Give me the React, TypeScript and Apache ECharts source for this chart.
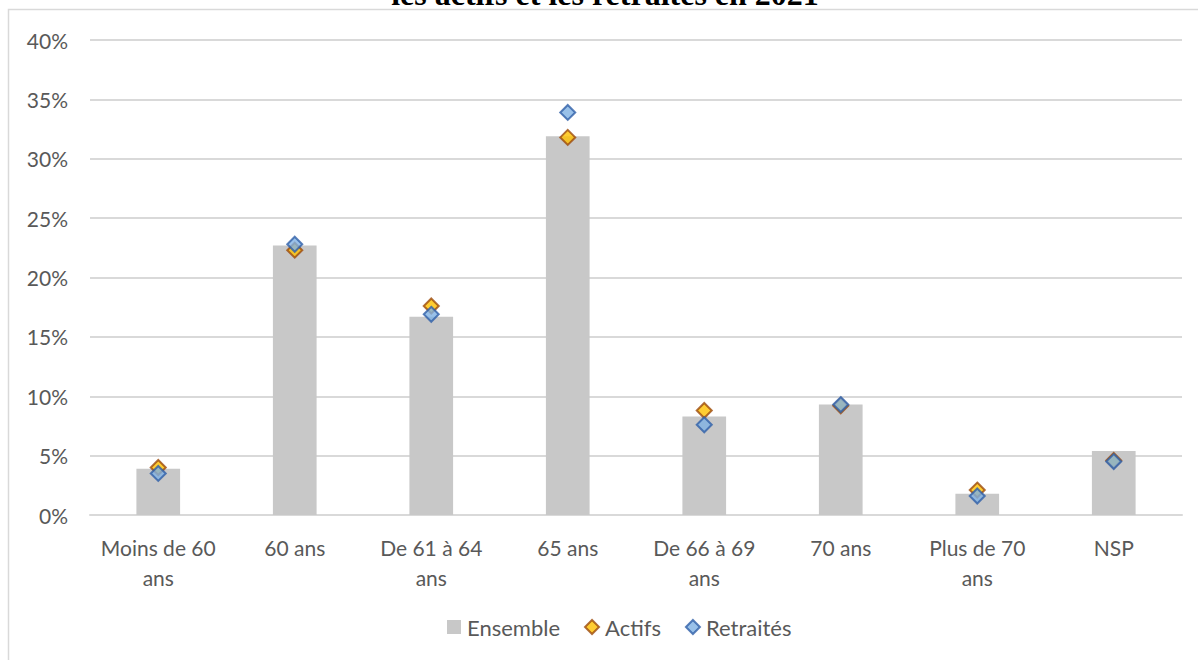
import React, { useEffect, useRef } from "react";
import * as echarts from "echarts";

const categories = [
  "Moins de 60 ans",
  "60 ans",
  "De 61 à 64 ans",
  "65 ans",
  "De 66 à 69 ans",
  "70 ans",
  "Plus de 70 ans",
  "NSP",
];
const ensemble = [3.9, 22.7, 16.7, 31.9, 8.3, 9.3, 1.8, 5.4];
const actifs = [4.0, 22.3, 17.6, 31.8, 8.8, 9.2, 2.1, 4.6];
const retraites = [3.5, 22.8, 16.9, 33.9, 7.6, 9.3, 1.6, 4.5];
const titleText = "les actifs et les retraités en 2021";

const FONT = "Lato";
const TXT = "#595959";
const FS = 21;

function wrap(label: string): string {
  if (label.length <= 8) return label;
  const i = label.lastIndexOf(" ");
  return label.slice(0, i) + "\n" + label.slice(i + 1);
}

export default function App() {
  const ref = useRef<HTMLDivElement>(null);
  useEffect(() => {
    if (!ref.current) return;
    const chart = echarts.init(ref.current, undefined, { renderer: "svg" });
    chart.setOption({
      animation: false,
      backgroundColor: "#ffffff",
      textStyle: { fontFamily: FONT },
      graphic: [
        {
          type: "rect",
          shape: { x: 8.5, y: 9.5, width: 1200, height: 660 },
          style: { fill: "none", stroke: "#D9D9D9", lineWidth: 1.5 },
          z: -1,
        },
        {
          type: "text",
          x: 605,
          y: 10,
          style: {
            text: titleText,
            font: "bold 32px 'Liberation Serif'",
            fill: "#000000",
            textAlign: "center",
            textVerticalAlign: "bottom",
          },
        },
      ],
      grid: { left: 90, right: 16, top: 40, bottom: 145, containLabel: false },
      legend: {
        bottom: 17,
        left: 442,
        itemGap: 24,
        itemWidth: 14,
        itemHeight: 14,
        textStyle: { color: TXT, fontSize: 22, fontFamily: FONT, padding: [0, 0, 0, 1] },
        data: [
          { name: "Ensemble", icon: "rect", itemStyle: { color: "#C8C8C8" } },
          { name: "Actifs", icon: "diamond" },
          { name: "Retraités", icon: "diamond" },
        ],
      },
      xAxis: {
        type: "category",
        data: categories,
        axisLine: { show: true, lineStyle: { color: "#D9D9D9", width: 2 } },
        axisTick: { show: false },
        axisLabel: {
          color: TXT,
          fontSize: FS,
          fontFamily: FONT,
          lineHeight: 30,
          margin: 17,
          interval: 0,
          formatter: (v: string) => wrap(v),
        },
      },
      yAxis: {
        type: "value",
        min: 0,
        max: 40,
        interval: 5,
        axisLine: { show: false },
        axisTick: { show: false },
        splitLine: { lineStyle: { color: "#D9D9D9", width: 2 } },
        axisLabel: {
          color: TXT,
          fontSize: FS,
          fontFamily: FONT,
          margin: 22,
          formatter: (v: number) => v + "%",
        },
      },
      series: [
        {
          name: "Ensemble",
          type: "bar",
          data: ensemble,
          barWidth: "32%",
          itemStyle: { color: "#C8C8C8" },
        },
        {
          name: "Actifs",
          type: "scatter",
          data: actifs,
          symbol: "diamond",
          symbolSize: 15,
          itemStyle: { color: "#FFC000", borderColor: "#9C4A0B", borderWidth: 2 },
          z: 3,
        },
        {
          name: "Retraités",
          type: "scatter",
          data: retraites,
          symbol: "diamond",
          symbolSize: 15,
          itemStyle: { color: "#7FB1E3", borderColor: "#2F5FA8", borderWidth: 2 },
          z: 4,
        },
      ],
    });
    return () => chart.dispose();
  }, []);
  return (
    <div
      ref={ref}
      style={{ position: "absolute", left: 0, top: 0, width: 1198, height: 660 }}
    />
  );
}
